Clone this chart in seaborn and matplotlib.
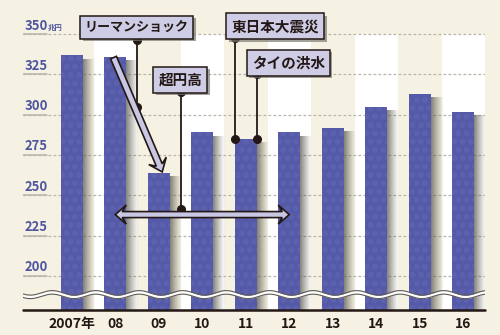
import numpy as np
import pandas as pd
import seaborn as sns
import matplotlib
matplotlib.use("Agg")
import matplotlib.pyplot as plt
from matplotlib.patches import Rectangle, Polygon
from matplotlib.transforms import IdentityTransform
import matplotlib.patheffects as pe

# ---- data -------------------------------------------------------------
years = ["2007年", "08", "09", "10", "11", "12", "13", "14", "15", "16"]
values = [337, 336, 264, 289, 285, 289, 292, 305, 313, 302]
y_ticks = [200, 225, 250, 275, 300, 325, 350]
unit_label = "兆円"
event_labels = ["リーマンショック", "超円高", "東日本大震災", "タイの洪水"]

# ---- style ------------------------------------------------------------
BG = "#f5f2e4"
BAR = "#5459a8"
BAR_DOT = "#5c61ae"
TICK_BLUE = "#4f559f"
INK = "#231815"
BOX = "#cfcde6"
ARROW = "#c9c8e4"

sns.set_theme(style="white")
plt.rcParams["font.family"] = ["Noto Sans CJK JP", "DejaVu Sans"]
plt.rcParams["hatch.linewidth"] = 1.6
NUM_FONT = ["Liberation Sans Narrow", "Noto Sans CJK JP", "DejaVu Sans"]
CJK_FONT = ["Noto Sans CJK JP", "DejaVu Sans"]

W, H, DPI = 500, 335, 100
fig = plt.figure(figsize=(W / DPI, H / DPI), dpi=DPI, facecolor=BG)
ax = fig.add_axes([23 / W, 25 / H, 462 / W, 310 / H])
ax.set_facecolor(BG)

# one category step = 43.5 px, 25 value units = 40 px
YPX = 25 / 40.0
XPX = 1 / 43.5
y_lo = 200 - 34 * YPX
y_hi = 350 + 34 * YPX
x_lo = -0.5 - 27 * XPX
x_hi = 9.5

df = pd.DataFrame({"year": years, "value": values})

# alternating column bands
for i in range(1, len(years), 2):
    ax.add_patch(Rectangle((i - 0.5, y_lo), 1, 350 - y_lo, fc="white",
                           ec="none", zorder=0))

# dashed grid with a short solid lead under each label
for v in y_ticks:
    ax.plot([x_lo, x_hi], [v, v], ls=(0, (2.2, 1.8)), lw=0.9,
            color="#b8b4a8", zorder=1)
    ax.plot([x_lo, x_lo + 24 * XPX], [v, v], lw=1.1, color="#b8b4a8",
            zorder=1)
    ax.text(x_lo + 2 * XPX, v + 4.5 * YPX, str(v), color=TICK_BLUE,
            fontsize=9.4, fontweight="bold", family=NUM_FONT,
            ha="left", va="baseline", zorder=5)
ax.text(x_lo + 25 * XPX, 350 + 4.5 * YPX, unit_label, color=TICK_BLUE,
        fontsize=5.3, fontweight="bold", family=CJK_FONT, ha="left",
        va="baseline", zorder=5)

# bars
bw = 0.51
sns.barplot(data=df, x="year", y="value", color=BAR, width=bw,
            saturation=1, ax=ax, zorder=3, edgecolor=BAR_DOT, linewidth=0)
for p in ax.patches:
    if p.get_width() < 0.9:
        p.set_hatch("oo")

# soft shadows to the right of each bar
t = np.linspace(0, 1, 64)
grad = np.zeros((1, 64, 4))
grad[..., :3] = np.array([0.36, 0.35, 0.31])
grad[0, :, 3] = 0.75 * (1 - t) ** 1.2
for i, v in enumerate(values):
    ax.imshow(grad, extent=[i + bw / 2, i + bw / 2 + 12 * XPX, y_lo,
                            v - 4 * YPX],
              aspect="auto", interpolation="bilinear", zorder=2.5)

# broken-axis wave
xs = np.linspace(x_lo, x_hi, 600)
yc = 188.3 + 1.4 * np.sin(2 * np.pi * (xs - 0.30))
ax.fill_between(xs, yc - 1.0, yc + 1.0, color="white", lw=0, zorder=4)
ax.plot(xs, yc + 1.1, color="#5f5b55", lw=0.8, zorder=4.1)
ax.plot(xs, yc - 1.1, color="#5f5b55", lw=0.8, zorder=4.1)

# base line
ax.plot([x_lo, x_hi], [y_lo, y_lo], color=INK, lw=1.8, zorder=6,
        clip_on=False)

ax.set_xlim(x_lo, x_hi)
ax.set_ylim(y_lo, y_hi)
ax.set_xticks(range(len(years)))
ax.set_xticklabels(years, fontsize=10, fontweight="bold", color=INK,
                   family=NUM_FONT)
ax.tick_params(axis="x", length=0, pad=5)
ax.set_yticks([])
ax.set_xlabel("")
ax.set_ylabel("")
for s in ax.spines.values():
    s.set_visible(False)


# ---- callouts ----------------------------------------------------------
def to_px(x, y):
    return ax.transData.transform((x, y))


def arrow_head(tip, dirv, shaft, head_w, head_l, barb):
    nn = np.array([-dirv[1], dirv[0]])
    back = tip - dirv * head_l
    return [back + dirv * barb + nn * shaft, back + nn * head_w, tip,
            back - nn * head_w, back + dirv * barb - nn * shaft]


def block_arrow(p0, p1, both=False, shaft=3.0, head_w=9.5, head_l=12.0,
                barb=4.5):
    """Outlined block arrow between two data points (pixel geometry)."""
    a = to_px(*p0)
    b = to_px(*p1)
    d = b - a
    u = d / np.hypot(*d)
    n = np.array([-u[1], u[0]])
    hb = arrow_head(b, u, shaft, head_w, head_l, barb)
    if both:
        ha = arrow_head(a, -u, shaft, head_w, head_l, barb)
        pts = hb + ha
    else:
        pts = [a + n * shaft] + hb + [a - n * shaft]
    poly = Polygon(np.array(pts), closed=True, transform=IdentityTransform(),
                   fc=ARROW, ec=INK, lw=1.2, zorder=8, clip_on=False,
                   joinstyle="miter")
    ax.add_artist(poly)


def callout(x, y, label, size=10.5):
    t = ax.text(x, y, label, fontsize=size, fontweight="bold", color=INK,
                family=CJK_FONT, ha="center", va="center", zorder=10,
                bbox=dict(boxstyle="square,pad=0.34", fc=BOX, ec=INK,
                          lw=1.1))
    t.get_bbox_patch().set_path_effects([
        pe.SimplePatchShadow(offset=(1.8, -1.8), shadow_rgbFace="#7d7a72",
                             alpha=0.7),
        pe.Normal()])
    t.set_clip_on(False)
    return t


def leader(x, y0, y1):
    ax.plot([x, x], [y0, y1], color=INK, lw=1.3, zorder=7, clip_on=False)
    ax.plot([x, x], [y0, y1], "o", color=INK, ms=5.5, zorder=7,
            clip_on=False)


i08, i09, i11, i12 = 1, 2, 4, 5

# Lehman shock
leader(i08 + 0.5, 346.5, 305)
callout(i08 + 0.494, 354.4, event_labels[0], size=9.4)
block_arrow((i08 - 0.04, values[i08] - 0.5), (i09 + 0.08, values[i09] + 0.5),
            shaft=3.2, head_w=9.5, head_l=12.0, barb=4.5)

# strong yen
leader(i09 + 0.5, 314, 241.5)
callout(i09 + 0.494, 321.6, event_labels[1])
block_arrow((i08, 238), (i12, 238), both=True, shaft=3.0, head_w=9.5,
            head_l=11.0, barb=4.0)

# earthquake / Thai floods at the 2011 bar corners
leader(i11 - bw / 2, 347.5, values[i11])
leader(i11 + bw / 2, 325.5, values[i11])
callout(i11 + 0.678, 355.0, event_labels[2])
callout(i11 + 0.977, 332.2, event_labels[3])

fig.savefig("out.png", dpi=DPI, facecolor=BG)
